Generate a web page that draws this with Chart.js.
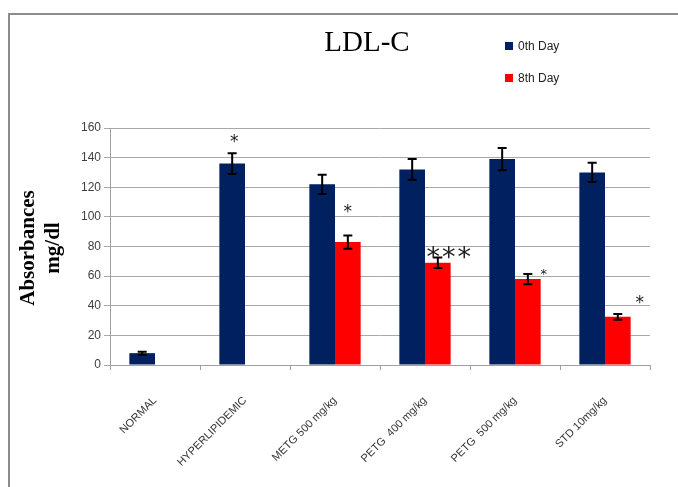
<!DOCTYPE html>
<html>
<head>
<meta charset="utf-8">
<script src="https://cdn.jsdelivr.net/npm/chart.js@4/dist/chart.umd.min.js"></script>
<style>
  html, body { margin: 0; padding: 0; background: #fff; }
  #wrap { position: relative; width: 678px; height: 487px; overflow: hidden; }
  #frame { position: absolute; left: 8px; top: 13px; width: 700px; height: 500px;
           border-left: 2px solid #8c8c8c; border-top: 2px solid #8c8c8c; box-sizing: border-box; }
  canvas { position: absolute; left: 0; top: 0; }
</style>
</head>
<body>
<div id="wrap">
  <canvas id="c" width="678" height="487"></canvas>
  <div id="frame"></div>
</div>
<script>
// LDL-C levels per treatment group, day 0 vs day 8
const categories = ['NORMAL', 'HYPERLIPIDEMIC', 'METG 500 mg/kg', 'PETG  400 mg/kg', 'PETG  500 mg/kg', 'STD 10mg/kg'];
const day0 = [8, 136, 122, 132, 139, 130];
const day0Err = [1, 7, 6.5, 7, 7.5, 6.5];
const day8 = [null, null, 83, 69, 58, 32.5];
const day8Err = [null, null, 4.5, 3.5, 3.5, 2];
const sig0 = ['', '*', '', '', '', ''];
const sig8 = ['', '', '*', '***', '*', '*'];
const yTicks = [0, 20, 40, 60, 80, 100, 120, 140, 160];

// where each significance mark sits relative to the top of its error bar
const sigPlacement = {
  '0-1': { dx: 2, dy: -15, size: 17, gap: 0 },
  '1-2': { dx: 0, dy: -27, size: 17, gap: 0 },
  '1-3': { dx: 11, dy: -5, size: 27, gap: 2 },
  '1-4': { dx: 16, dy: -2, size: 13, gap: 0 },
  '1-5': { dx: 22, dy: -14, size: 17, gap: 0 }
};

const errorBars = {
  id: 'errorBars',
  afterDatasetsDraw(chart) {
    const ctx = chart.ctx;
    const y = chart.scales.y;
    const errs = [day0Err, day8Err];
    ctx.save();
    ctx.strokeStyle = '#000';
    ctx.lineWidth = 2;
    chart.data.datasets.forEach((ds, di) => {
      const meta = chart.getDatasetMeta(di);
      meta.data.forEach((bar, i) => {
        const v = ds.data[i], e = errs[di][i];
        if (v == null || e == null) return;
        const x = bar.x;
        const yt = y.getPixelForValue(v + e), yb = y.getPixelForValue(v - e);
        ctx.beginPath();
        ctx.moveTo(x, yt); ctx.lineTo(x, yb);
        ctx.moveTo(x - 4.5, yt); ctx.lineTo(x + 4.5, yt);
        ctx.moveTo(x - 4.5, yb); ctx.lineTo(x + 4.5, yb);
        ctx.stroke();
      });
    });
    // significance marks
    const sigs = [sig0, sig8];
    ctx.fillStyle = '#222';
    ctx.textAlign = 'center';
    ctx.textBaseline = 'alphabetic';
    sigs.forEach((arr, di) => {
      const meta = chart.getDatasetMeta(di);
      arr.forEach((t, i) => {
        if (!t) return;
        const p = sigPlacement[di + '-' + i];
        const v = chart.data.datasets[di].data[i];
        const e = errs[di][i] || 0;
        const cx = meta.data[i].x + p.dx;
        const cy = y.getPixelForValue(v + e) + p.dy;
        ctx.font = p.size + 'px "DejaVu Sans"';
        ctx.letterSpacing = p.gap + 'px';
        const m = ctx.measureText(t);
        const mid = (m.actualBoundingBoxAscent - m.actualBoundingBoxDescent) / 2;
        ctx.fillText(t, cx + p.gap / 2, cy + mid);
      });
    });
    ctx.letterSpacing = '0px';
    ctx.restore();
  }
};

const decorations = {
  id: 'decorations',
  afterDraw(chart) {
    const ctx = chart.ctx;
    ctx.save();
    // title
    ctx.fillStyle = '#000';
    ctx.font = '29px "Liberation Serif"';
    ctx.textAlign = 'center';
    ctx.textBaseline = 'alphabetic';
    ctx.fillText('LDL-C', 367, 51);
    // legend
    ctx.font = '12px "Liberation Sans"';
    ctx.textAlign = 'left';
    ctx.textBaseline = 'middle';
    chart.data.datasets.forEach((ds, i) => {
      const ly = 46 + i * 32;
      ctx.fillStyle = ds.backgroundColor;
      ctx.fillRect(505, ly - 4, 8, 8);
      ctx.fillStyle = '#222';
      ctx.fillText(ds.label, 518, ly + 1);
    });
    // y-axis title (two lines)
    ctx.fillStyle = '#000';
    ctx.font = 'bold 21px "Liberation Serif"';
    ctx.textAlign = 'center';
    ctx.textBaseline = 'middle';
    [['Absorbances', 29], ['mg/dl', 54]].forEach(([t, x]) => {
      ctx.save();
      ctx.translate(x, 248);
      ctx.rotate(-Math.PI / 2);
      ctx.fillText(t, 0, 0);
      ctx.restore();
    });
    ctx.restore();
  }
};

new Chart(document.getElementById('c'), {
  type: 'bar',
  data: {
    labels: categories,
    datasets: [
      { label: '0th Day', data: day0, backgroundColor: '#002060' },
      { label: '8th Day', data: day8, backgroundColor: '#ff0000' }
    ]
  },
  options: {
    responsive: false,
    animation: false,
    layout: { padding: { left: 70, right: 28, top: 128, bottom: 0 } },
    plugins: {
      legend: { display: false },
      title: { display: false },
      tooltip: { enabled: false }
    },
    datasets: { bar: { barPercentage: 1, categoryPercentage: 0.57 } },
    scales: {
      x: {
        afterFit(s) { s.height = 122; },
        grid: { drawOnChartArea: false, drawTicks: true, tickLength: 5, color: '#a0a0a0', offset: true },
        border: { color: '#a0a0a0', width: 1 },
        ticks: {
          minRotation: 45, maxRotation: 45, padding: 24,
          color: '#333', font: { family: 'Liberation Sans', size: 11 }
        }
      },
      y: {
        min: 0, max: 160,
        afterFit(s) { s.width = 40; },
        afterBuildTicks(s) { s.ticks = yTicks.map(v => ({ value: v })); },
        grid: { color: '#a8a8a8', lineWidth: 1, tickLength: 6 },
        border: { color: '#a0a0a0', width: 1 },
        ticks: { padding: 3, color: '#404040', font: { family: 'Liberation Sans', size: 12 } }
      }
    }
  },
  plugins: [errorBars, decorations]
});
</script>
</body>
</html>
